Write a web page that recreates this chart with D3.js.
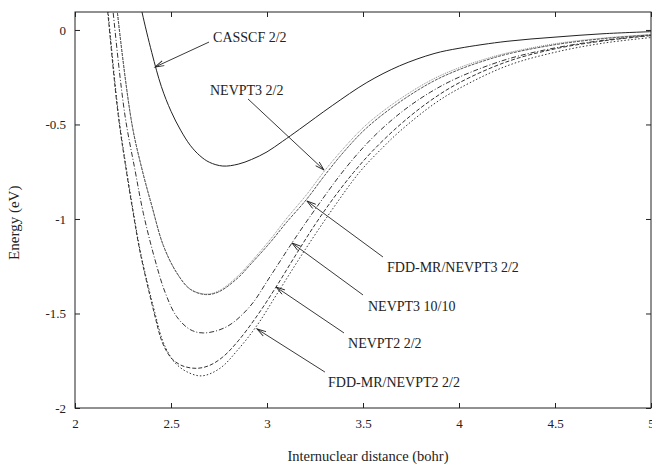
<!DOCTYPE html>
<html>
<head>
<meta charset="utf-8">
<script src="https://cdn.jsdelivr.net/npm/d3@7"></script>
<style>
  html, body { margin: 0; padding: 0; background: #fff; }
  svg { display: block; font-family: "Liberation Serif", "Times New Roman", serif; }
  svg text { font-family: "Liberation Serif", "Times New Roman", serif; }
</style>
</head>
<body>
<div id="chart"></div>
<script>
// ---------------------------------------------------------
//  potential energy curves
//  R in bohr, E in eV
// ---------------------------------------------------------
const casscfR = [2.33, 2.35, 2.40, 2.45, 2.50, 2.55, 2.60, 2.65, 2.70, 2.77, 2.85, 2.92, 3.00, 3.08, 3.17, 3.34, 3.52, 3.69, 3.87, 4.00, 4.25, 4.50, 4.75, 5.00];
const casscfE = [0.19, 0.09, -0.12, -0.30, -0.43, -0.53, -0.61, -0.665, -0.70, -0.72, -0.71, -0.685, -0.645, -0.59, -0.525, -0.40, -0.278, -0.19, -0.125, -0.097, -0.06, -0.038, -0.02, -0.009];

const nevpt3R = [2.20, 2.22, 2.297, 2.35, 2.40, 2.46, 2.53, 2.60, 2.68, 2.75, 2.85, 2.91, 3.016, 3.10, 3.207, 3.30, 3.40, 3.519, 3.693, 3.865, 4.00, 4.11, 4.25, 4.50, 4.75, 5.00];
const nevpt3E = [0.32, 0.10, -0.50, -0.741, -0.93, -1.14, -1.285, -1.37, -1.397, -1.38, -1.30, -1.235, -1.11, -1.00, -0.87, -0.745, -0.625, -0.50, -0.365, -0.26, -0.20, -0.162, -0.122, -0.073, -0.043, -0.024];

const fddNevpt3R = [2.20, 2.22, 2.297, 2.35, 2.40, 2.46, 2.53, 2.60, 2.68, 2.75, 2.85, 2.91, 3.016, 3.10, 3.207, 3.30, 3.40, 3.519, 3.693, 3.865, 4.00, 4.11, 4.25, 4.50, 4.75, 5.00];
const fddNevpt3E = [0.32, 0.10, -0.50, -0.741, -0.93, -1.14, -1.285, -1.372, -1.40, -1.385, -1.31, -1.245, -1.125, -1.02, -0.895, -0.77, -0.645, -0.518, -0.38, -0.272, -0.21, -0.17, -0.128, -0.078, -0.046, -0.026];

const nevpt3bigR = [2.18, 2.198, 2.26, 2.3125, 2.356, 2.417, 2.47, 2.53, 2.60, 2.67, 2.79, 2.91, 3.016, 3.13, 3.25, 3.41, 3.55, 3.70, 3.85, 4.00, 4.25, 4.50, 4.75, 5.00];
const nevpt3bigE = [0.30, 0.10, -0.45, -0.741, -0.97, -1.217, -1.39, -1.517, -1.585, -1.603, -1.57, -1.464, -1.305, -1.127, -0.95, -0.73, -0.57, -0.435, -0.33, -0.25, -0.155, -0.095, -0.055, -0.028];

const nevpt2R = [2.15, 2.17, 2.225, 2.268, 2.30, 2.34, 2.413, 2.45, 2.48, 2.51, 2.5625, 2.635, 2.70, 2.77, 2.85, 2.95, 3.047, 3.15, 3.25, 3.35, 3.45, 3.55, 3.70, 3.85, 4.00, 4.25, 4.50, 4.75, 5.00];
const nevpt2E = [0.32, 0.10, -0.45, -0.75, -0.95, -1.18, -1.50, -1.64, -1.705, -1.745, -1.778, -1.79, -1.775, -1.73, -1.645, -1.51, -1.36, -1.19, -1.03, -0.885, -0.755, -0.64, -0.495, -0.375, -0.28, -0.168, -0.10, -0.058, -0.03];

const fddNevpt2R = [2.152, 2.172, 2.227, 2.27, 2.302, 2.342, 2.417, 2.455, 2.487, 2.52, 2.58, 2.66, 2.755, 2.85, 2.95, 3.05, 3.20, 3.35, 3.484, 3.60, 3.693, 3.865, 4.00, 4.25, 4.50, 4.75, 5.00];
const fddNevpt2E = [0.32, 0.10, -0.45, -0.75, -0.95, -1.18, -1.50, -1.64, -1.71, -1.76, -1.807, -1.83, -1.79, -1.69, -1.56, -1.40, -1.16, -0.935, -0.75, -0.625, -0.535, -0.395, -0.31, -0.19, -0.118, -0.07, -0.04];

const xTicks = [2, 2.5, 3, 3.5, 4, 4.5, 5];
const xTickLabels = ['2', '2.5', '3', '3.5', '4', '4.5', '5'];
const yTicks = [0, -0.5, -1, -1.5, -2];
const yTickLabels = ['0', '-0.5', '-1', '-1.5', '-2'];

// labels and arrows in plot (data) coordinates, like gnuplot "set label/arrow"
const labelText = ['CASSCF 2/2', 'NEVPT3 2/2', 'FDD-MR/NEVPT3 2/2', 'NEVPT3 10/10', 'NEVPT2 2/2', 'FDD-MR/NEVPT2 2/2'];
const labelR    = [2.719, 2.703, 3.625, 3.526, 3.422, 3.318];
const labelE    = [-0.064, -0.344, -1.280, -1.487, -1.683, -1.889];
const arrowFromR = [2.698, 2.901, 3.604, 3.500, 3.401, 3.302];
const arrowFromE = [-0.064, -0.365, -1.201, -1.402, -1.603, -1.810];
const arrowToR   = [2.417, 3.297, 3.208, 3.130, 3.047, 2.948];
const arrowToE   = [-0.196, -0.741, -0.905, -1.127, -1.360, -1.582];

const series = [
  { R: casscfR,     E: casscfE,     dash: null,          color: '#222' },
  { R: nevpt3R,     E: nevpt3E,     dash: '1,1',         color: '#8a8a8a' },
  { R: fddNevpt3R,  E: fddNevpt3E,  dash: '3,1',         color: '#555' },
  { R: nevpt3bigR,  E: nevpt3bigE,  dash: '5,2,1,2',     color: '#333' },
  { R: nevpt2R,     E: nevpt2E,     dash: '4,2',         color: '#333' },
  { R: fddNevpt2R,  E: fddNevpt2E,  dash: '1.5,2',       color: '#333' }
];

const W = 652, H = 464;
const margin = { top: 12, right: 1, bottom: 56, left: 75 };
const iw = W - margin.left - margin.right;
const ih = H - margin.top - margin.bottom;
const serif = '"Liberation Serif", "Times New Roman", serif';

const svg = d3.select('#chart').append('svg')
  .attr('width', W)
  .attr('height', H)
  .attr('viewBox', `0 0 ${W} ${H}`);

const x = d3.scaleLinear().domain([2, 5]).range([0, iw]);
const y = d3.scaleLinear().domain([-2, 0.095]).range([ih, 0]);

const defs = svg.append('defs');
defs.append('clipPath')
  .attr('id', 'plot-clip')
  .append('rect')
  .attr('width', iw)
  .attr('height', ih);

const head = defs.append('marker')
  .attr('id', 'head')
  .attr('viewBox', '-10 -5 12 10')
  .attr('refX', 0)
  .attr('refY', 0)
  .attr('markerWidth', 12)
  .attr('markerHeight', 10)
  .attr('markerUnits', 'userSpaceOnUse')
  .attr('orient', 'auto');
head.append('path')
  .attr('d', 'M-9,-2.6L0,0L-9,2.6')
  .attr('fill', 'none')
  .attr('stroke', '#222')
  .attr('stroke-width', 0.9);

const g = svg.append('g').attr('transform', `translate(${margin.left},${margin.top})`);

// axes, ticks pointing inwards on all four sides
const styleAxis = a => {
  a.attr('font-family', serif).attr('font-size', 13);
  a.select('.domain').remove();
  a.selectAll('.tick line').attr('stroke', '#222');
  a.selectAll('.tick text').style('font-family', serif).attr('fill', '#222');
};

g.append('g')
  .attr('transform', `translate(0,${ih})`)
  .call(d3.axisBottom(x).tickValues(xTicks).tickFormat((d, i) => xTickLabels[i])
    .tickSizeInner(-5).tickSizeOuter(0).tickPadding(11))
  .call(styleAxis);
g.append('g')
  .call(d3.axisLeft(y).tickValues(yTicks).tickFormat((d, i) => yTickLabels[i])
    .tickSizeInner(-5).tickSizeOuter(0).tickPadding(9))
  .call(styleAxis);
g.append('g')
  .call(d3.axisTop(x).tickValues(xTicks).tickFormat('').tickSizeInner(-5).tickSizeOuter(0))
  .call(styleAxis);
g.append('g')
  .attr('transform', `translate(${iw},0)`)
  .call(d3.axisRight(y).tickValues(yTicks).tickFormat('').tickSizeInner(-5).tickSizeOuter(0))
  .call(styleAxis);

g.append('rect')
  .attr('width', iw)
  .attr('height', ih)
  .attr('fill', 'none')
  .attr('stroke', '#222')
  .attr('stroke-width', 1);

// curves
const line = d3.line()
  .x(d => x(d[0]))
  .y(d => y(d[1]))
  .curve(d3.curveCatmullRom.alpha(0.5));

g.append('g')
  .attr('clip-path', 'url(#plot-clip)')
  .selectAll('path')
  .data(series)
  .join('path')
  .attr('d', s => line(s.R.map((r, i) => [r, s.E[i]])))
  .attr('fill', 'none')
  .attr('stroke', s => s.color)
  .attr('stroke-width', 1)
  .attr('stroke-dasharray', s => s.dash);

// annotations
const ann = g.append('g');
labelText.forEach((t, i) => {
  ann.append('line')
    .attr('x1', x(arrowFromR[i]))
    .attr('y1', y(arrowFromE[i]))
    .attr('x2', x(arrowToR[i]))
    .attr('y2', y(arrowToE[i]))
    .attr('stroke', '#222')
    .attr('stroke-width', 0.9)
    .attr('marker-end', 'url(#head)');
  ann.append('text')
    .attr('x', x(labelR[i]))
    .attr('y', y(labelE[i]))
    .attr('font-size', 14)
    .attr('fill', '#222')
    .text(t);
});

// axis titles
svg.append('text')
  .attr('x', 368)
  .attr('y', 461)
  .attr('text-anchor', 'middle')
  .attr('font-size', 14.5)
  .attr('fill', '#222')
  .text('Internuclear distance (bohr)');

svg.append('text')
  .attr('transform', `translate(19,${margin.top + y(-1.02)}) rotate(-90)`)
  .attr('text-anchor', 'middle')
  .attr('font-size', 15)
  .attr('fill', '#222')
  .text('Energy (eV)');
</script>
</body>
</html>
